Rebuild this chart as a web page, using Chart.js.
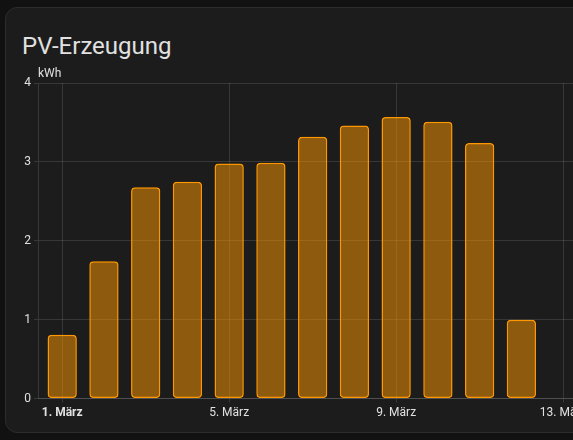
<!DOCTYPE html>
<html>
<head>
<meta charset="utf-8">
<script src="https://cdn.jsdelivr.net/npm/chart.js@4"></script>
<style>
	html, body {
		margin: 0;
		padding: 0;
		background: #111111;
		overflow: hidden;
		width: 573px;
		height: 440px;
	}
	.card {
		position: absolute;
		left: 5px;
		top: 7px;
		width: 640px;
		height: 426px;
		background: #1c1c1c;
		border: 1px solid #2c2c2c;
		border-radius: 12px;
		box-sizing: border-box;
		font-family: Roboto, sans-serif;
	}
	.card h1 {
		position: absolute;
		left: 16px;
		top: 22px;
		margin: 0;
		font-size: 24px;
		font-weight: 400;
		color: #e1e1e1;
		line-height: 32px;
	}
	.wrap {
		position: absolute;
		left: 0px;
		top: 45px;
		width: 600px;
		height: 370px;
	}
</style>
</head>
<body>
<div class="card">
	<h1>PV-Erzeugung</h1>
	<div class="wrap"><canvas id="myChart"></canvas></div>
</div>
<script>
	// days of March and the kWh produced
	const days = [1, 2, 3, 4, 5, 6, 7, 8, 9, 10, 11, 12];
	const energy = [0.81, 1.74, 2.68, 2.75, 2.98, 2.99, 3.32, 3.46, 3.57, 3.51, 3.24, 1.0];
	const yTicks = [0, 1, 2, 3, 4];
	const labelDays = [1, 5, 9, 13];
	const unit = "kWh";

	const unitLabel = {
		id: "unitLabel",
		afterDraw(chart) {
			const c = chart.ctx;
			c.save();
			c.font = "12px Roboto";
			c.fillStyle = "#e1e1e1";
			c.textAlign = "left";
			c.textBaseline = "bottom";
			c.fillText(unit, chart.chartArea.left, chart.chartArea.top - 3);
			c.restore();
		},
	};

	const ctx = document.getElementById("myChart").getContext("2d");
	const myChart = new Chart(ctx, {
		type: "bar",
		data: {
			datasets: [
				{
					label: "PV-Erzeugung",
					data: days.map((d, i) => ({ x: d, y: energy[i] })),
					backgroundColor: "rgba(255, 152, 0, 0.5)",
					borderColor: "#ff9800",
					borderWidth: 1.5,
					borderRadius: 4,
					borderSkipped: false,
					barPercentage: 0.9,
					categoryPercentage: 0.78,
				},
			],
		},
		options: {
			responsive: true,
			maintainAspectRatio: false,
			animation: false,
			layout: {
				padding: { top: 30, right: 22, bottom: 0, left: 0 },
			},
			plugins: {
				legend: { display: false },
				tooltip: { enabled: false },
			},
			scales: {
				x: {
					type: "linear",
					min: 0.42,
					max: 13.5,
					offset: false,
					grid: {
						offset: false,
						color: "rgba(255,255,255,0.12)",
						tickLength: 4,
					},
					border: { color: "rgba(255,255,255,0.12)" },
					afterBuildTicks: (scale) => {
						scale.ticks = labelDays.map((v) => ({ value: v, major: v === 1 }));
					},
					ticks: {
						autoSkip: false,
						maxRotation: 0,
						color: "#e1e1e1",
						padding: 3,
						font: (c) => ({
							family: "Roboto",
							size: 12,
							weight: c.tick && c.tick.value === 1 ? "bold" : "normal",
						}),
						callback: (v) => v + ". März",
					},
				},
				y: {
					min: 0,
					max: 4,
					afterFit: (scale) => {
						scale.width = 32;
					},
					afterBuildTicks: (scale) => {
						scale.ticks = yTicks.map((v) => ({ value: v }));
					},
					grid: {
						color: "rgba(255,255,255,0.12)",
						tickLength: 4,
					},
					border: { color: "rgba(255,255,255,0.12)" },
					ticks: {
						color: "#e1e1e1",
						padding: 3,
						font: { family: "Roboto", size: 12 },
					},
				},
			},
		},
		plugins: [unitLabel],
	});
</script>
</body>
</html>
